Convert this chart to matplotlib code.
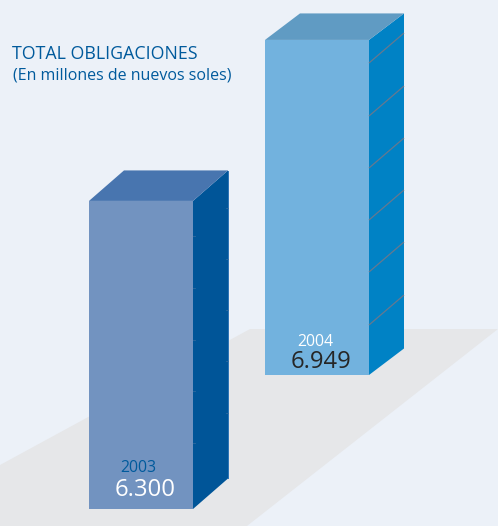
import matplotlib
matplotlib.use("Agg")
import matplotlib.pyplot as plt
from matplotlib.patches import Polygon, Rectangle

years = ["2003", "2004"]
values = [6300, 6949]
value_labels = ["6.300", "6.949"]
title = "TOTAL OBLIGACIONES"
subtitle = "(En millones de nuevos soles)"

W, H = 498, 526
BG = "#ecf1f8"

plt.rcParams['font.family'] = ['Open Sans', 'DejaVu Sans']

# figure in pixel coords, y pointing down like the reference
fig = plt.figure(figsize=(W / 100, H / 100), dpi=100, facecolor=BG)
ax = fig.add_axes([0, 0, 1, 1])
ax.set_xlim(0, W)
ax.set_ylim(H, 0)
ax.axis("off")

# floor shadow
ax.add_patch(Polygon([(0, 465), (250, 329), (498, 329), (247, 526), (0, 526)],
                     closed=True, fc="#e6e7e9", ec="none"))


def bar_height(v):  # the bars in the picture are not zero based
    return 0.0416 * v + 46


def draw_bar(left, base, v, dy, front, top, side):
    w = 104
    dx = 35
    h = bar_height(v)
    y = base - h
    ax.add_patch(Polygon([(left + w, y), (left + w + dx, y - dy), (left + w + dx, base - dy), (left + w, base)],
                         closed=True, fc=side, ec="none"))
    ax.add_patch(Polygon([(left, y), (left + dx, y - dy), (left + w + dx, y - dy), (left + w, y)],
                         closed=True, fc=top, ec="none"))
    ax.add_patch(Rectangle((left, y), w, h, fc=front, ec="none"))


draw_bar(89, 509, values[0], 30.5, "#7293c0", "#4875af", "#005598")
draw_bar(265, 375, values[1], 26.5, "#72b2de", "#609bc3", "#0082c5")

# lighter back edge of the 2003 side
ax.plot([227.7, 227.7], [171, 478], color="#2a72b4", lw=0.7)

# grid lines on the side of the 2004 bar
for gy in [63, 116, 168, 220, 272, 325]:
    ax.plot([369, 404], [gy, gy - 30], color="#66788f", lw=0.9, solid_capstyle="butt")
# small ticks on the 2003 one
for gy in [236, 288, 340, 391, 443]:
    ax.plot([193, 195], [gy, gy], color="#2f6a9f", lw=0.6)
for gy in [208, 259, 310, 361, 413]:
    ax.plot([226, 228], [gy, gy], color="#2f6a9f", lw=0.6)

ax.text(12, 54, title, color="#005a9c", fontsize=12.8, va="center", ha="left")
ax.text(13, 75, subtitle, color="#005a9c", fontsize=11.5, va="center", ha="left")

ax.text(138, 467.5, years[0], color="#005a9c", fontsize=11.4, va="center", ha="center")
ax.text(145, 489.5, value_labels[0], color="#ffffff", fontsize=17.2, va="center", ha="center")
ax.text(315.5, 342, years[1], color="#ffffff", fontsize=11.4, va="center", ha="center")
ax.text(321.5, 362.5, value_labels[1], color="#262626", fontsize=17.2, va="center", ha="center")

fig.savefig("out.png", dpi=100, facecolor=BG)
